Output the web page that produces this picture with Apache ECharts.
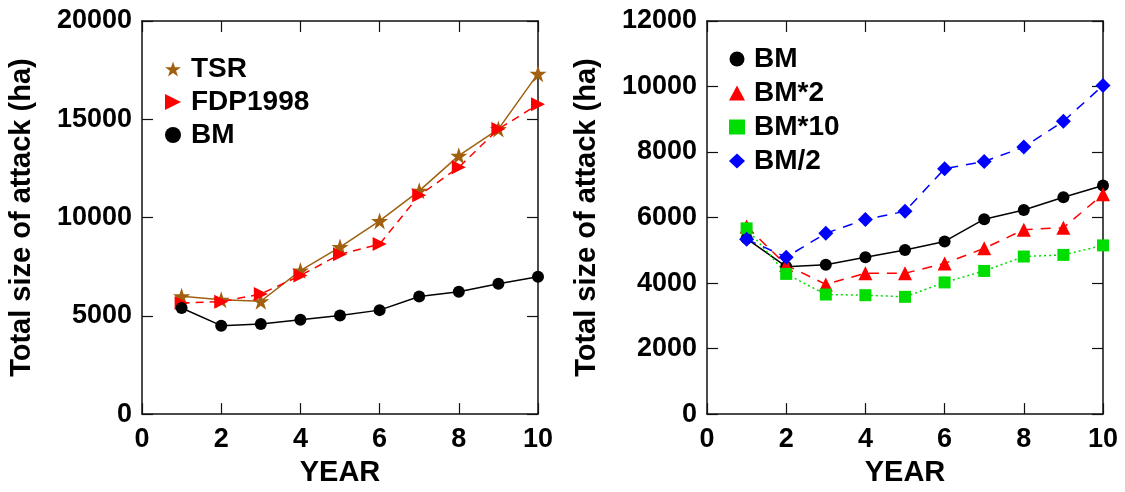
<!DOCTYPE html>
<html>
<head>
<meta charset="utf-8">
<script src="https://cdn.jsdelivr.net/npm/echarts@6/dist/echarts.min.js"></script>
<style>html,body{margin:0;padding:0;background:#fff}#c{width:1125px;height:492px}</style>
</head>
<body>
<div id="c"></div>
<script>
const years = [1,2,3,4,5,6,7,8,9,10];
const tsr = [5990,5820,5740,7300,8500,9830,11360,13150,14500,17320];
const fdp1998 = [5650,5720,6110,7050,8130,8650,11130,12560,14500,15760];
const bmLeft = [5400,4500,4580,4800,5020,5290,5980,6230,6630,6990];
const bm = [5360,4500,4560,4790,5010,5270,5950,6230,6620,6980];
const bm2 = [5730,4550,3960,4300,4300,4600,5060,5630,5690,6710];
const bm10 = [5670,4280,3650,3630,3580,4020,4370,4810,4860,5150];
const bmHalf = [5340,4790,5520,5940,6190,7490,7710,8150,8940,10030];

const FONT = '"Liberation Sans", Arial, sans-serif';
const STAR = 'path://M50,0 L61.8,35.5 L99,35.5 L69,57.5 L80.4,93 L50,71 L19.6,93 L31,57.5 L1,35.5 L38.2,35.5 Z';
const RTRI = 'path://M0,0 L10,5 L0,10 Z';
const pairs = arr => years.map((x,i)=>[x,arr[i]]);

const axisLine = {show:true, onZero:false, lineStyle:{color:'#111', width:1.5}};
const tick = {show:true, inside:true, length:11, lineStyle:{color:'#111', width:1.2}};
const labelStyle = {fontFamily:FONT, fontWeight:'bold', fontSize:27, color:'#000', formatter: v => String(v)};
const nameStyle = {fontFamily:FONT, fontWeight:'bold', fontSize:29, color:'#000'};

function xAxes(gi){
  return [
    {type:'value', gridIndex:gi, min:0, max:10, interval:2, position:'bottom',
     axisLine, axisTick:tick, splitLine:{show:false},
     axisLabel:Object.assign({margin:12}, labelStyle),
     name:'YEAR', nameLocation:'middle', nameGap:43, nameTextStyle:nameStyle},
    {type:'value', gridIndex:gi, min:0, max:10, interval:2, position:'top',
     axisLine, axisTick:tick, splitLine:{show:false}, axisLabel:{show:false}}
  ];
}
function yAxes(gi, max, interval){
  return [
    {type:'value', gridIndex:gi, min:0, max, interval, position:'left',
     axisLine, axisTick:tick, splitLine:{show:false},
     axisLabel:Object.assign({margin:10}, labelStyle),
     name:'Total size of attack (ha)', nameLocation:'middle', nameGap:106, nameTextStyle:nameStyle},
    {type:'value', gridIndex:gi, min:0, max, interval, position:'right',
     axisLine, axisTick:tick, splitLine:{show:false}, axisLabel:{show:false}}
  ];
}

function line(name, data, xi, yi, color, type, symbol, size, width){
  return {name, type:'line', xAxisIndex:xi, yAxisIndex:yi, data:pairs(data),
    symbol, symbolSize:size, showSymbol:true,
    itemStyle:{color, opacity:1}, lineStyle:{color, type, width:width||1.5},
    emphasis:{disabled:true}, animation:false};
}

const chart = echarts.init(document.getElementById('c'), null, {renderer:'canvas'});
chart.setOption({
  animation:false,
  backgroundColor:'#fff',
  grid:[
    {left:142, top:21, width:396, height:396},
    {left:707, top:21, width:396, height:396}
  ],
  xAxis:[...xAxes(0), ...xAxes(1)],
  yAxis:[...yAxes(0,20000,5000), ...yAxes(1,12000,2000)],
  legend:[
    {orient:'vertical', left:160, top:50, itemWidth:16, itemHeight:16, itemGap:5,
     textStyle:{fontFamily:FONT, fontWeight:'bold', fontSize:28, color:'#000', lineHeight:27, padding:[0,0,0,5]},
     data:[{name:'TSR', icon:STAR},{name:'FDP1998', icon:RTRI},{name:'BM', icon:'circle'}]},
    {orient:'vertical', left:724, top:40, itemWidth:16, itemHeight:15, itemGap:6,
     textStyle:{fontFamily:FONT, fontWeight:'bold', fontSize:28, color:'#000', lineHeight:27, padding:[0,0,0,4]},
     data:[{name:'BM ', icon:'circle'},{name:'BM*2', icon:'triangle'},{name:'BM*10', icon:'rect'},{name:'BM/2', icon:'diamond'}],
     formatter: n => n.trim()}
  ],
  series:[
    line('TSR', tsr, 0, 0, '#a0600f', 'solid', STAR, 17, 1.5),
    line('FDP1998', fdp1998, 0, 0, '#ff0000', [8,6], RTRI, 14, 1.5),
    line('BM', bmLeft, 0, 0, '#000000', 'solid', 'circle', 12, 1.5),
    line('BM ', bm, 2, 2, '#000000', 'solid', 'circle', 12, 1.5),
    line('BM*2', bm2, 2, 2, '#ff0000', [10,8], 'triangle', 14, 1.5),
    line('BM*10', bm10, 2, 2, '#00dd00', [2,3], 'rect', 12, 1.5),
    line('BM/2', bmHalf, 2, 2, '#0000ff', [10,8], 'diamond', 15, 1.5)
  ]
});
</script>
</body>
</html>
